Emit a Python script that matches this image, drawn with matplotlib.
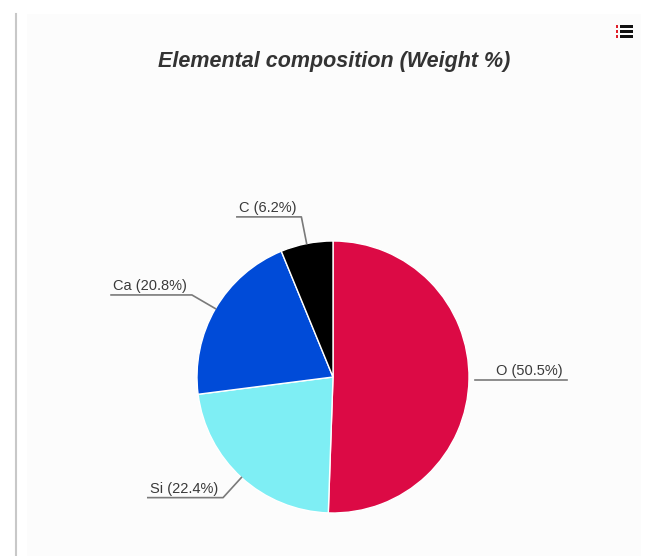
import numpy as np
import matplotlib
matplotlib.use("Agg")
import matplotlib.pyplot as plt
from matplotlib.patches import Rectangle
from matplotlib.lines import Line2D
from matplotlib.transforms import IdentityTransform, offset_copy

plt.rcParams['font.family'] = ['Liberation Sans', 'DejaVu Sans']

# Data ----------------------------------------
elements = ["O", "Si", "Ca", "C"]
weights = [50.5, 22.4, 20.8, 6.2]
colors = ["#dc0a45", "#7eeef4", "#004bd8", "#000000"]
title = "Elemental composition (Weight %)"
# ---------------------------------------------

W, H = 651, 556
fig = plt.figure(figsize=[W/100, H/100], dpi=100)
fig.patch.set_facecolor("white")

def px(x, y):
    # pixel coords (from top-left) -> figure fraction
    return x/W, 1 - y/H

# panel background + left border
x0, y0 = px(27, 14)
fig.add_artist(Rectangle((x0, 0), px(641, 0)[0]-x0, y0, transform=fig.transFigure,
                         facecolor="#fcfcfc", edgecolor="none", zorder=0))
fig.add_artist(Line2D([15.5/W, 15.5/W], [0, y0], transform=fig.transFigure,
                      color="#c8c8c8", lw=1.5))

# menu icon
for i in range(3):
    yy = 26 + 5*i
    fig.add_artist(Rectangle(px(615.5, yy+1.5), 2.5/W, 2.5/H, transform=fig.transFigure,
                             facecolor="#e0202a", edgecolor="none"))
    fig.add_artist(Rectangle(px(620, yy+1.8), 12.5/W, 3/H, transform=fig.transFigure,
                             facecolor="#111111", edgecolor="none"))

tx, ty = px(334, 61)
fig.text(tx, ty, title, ha="center", va="center", fontsize=15.5, fontweight="bold",
         fontstyle="italic", color="#333333")

# pie axes: centre (333,377), radius 136 px
cx, cy, r = 333, 377, 136
l, b = px(cx - r, cy + r)
ax = fig.add_axes([l, b, 2*r/W, 2*r/H])
wedges, _ = ax.pie(weights, colors=colors, startangle=90, counterclock=False,
                   wedgeprops=dict(edgecolor="white", linewidth=1))
ax.set_xlim(-1, 1)
ax.set_ylim(-1, 1)
ax.set_aspect("equal")
ax.axis("off")

fig.canvas.draw()
renderer = fig.canvas.get_renderer()
for w, name, val in zip(wedges, elements, weights):
    mid = np.deg2rad((w.theta1 + w.theta2) / 2)
    ex, ey = np.cos(mid), np.sin(mid)
    ox, oy = 1.2*ex, 1.2*ey
    p_edge = ax.transData.transform((ex, ey))
    p_elb = ax.transData.transform((ox, oy))
    right = ex > 0
    lab = f"{name} ({val}%)"
    t = ax.text(ox, oy, lab, ha="left" if right else "right", va="baseline",
                fontsize=10.5, color="#3a3a3a", clip_on=False,
                transform=offset_copy(ax.transData, fig, x=0 if right else -5, y=5, units="dots"))
    bb = t.get_window_extent(renderer)
    if right:
        xs = [p_edge[0] + 6, p_elb[0], bb.x1 + 4]
        ys = [p_elb[1], p_elb[1], p_elb[1]]
    else:
        xs = [p_edge[0], p_elb[0], bb.x0 - 2]
        ys = [p_edge[1], p_elb[1], p_elb[1]]
    fig.add_artist(Line2D(xs, ys, transform=IdentityTransform(), color="#7a7a7a", lw=1.2))

fig.savefig("out.png", dpi=100)
